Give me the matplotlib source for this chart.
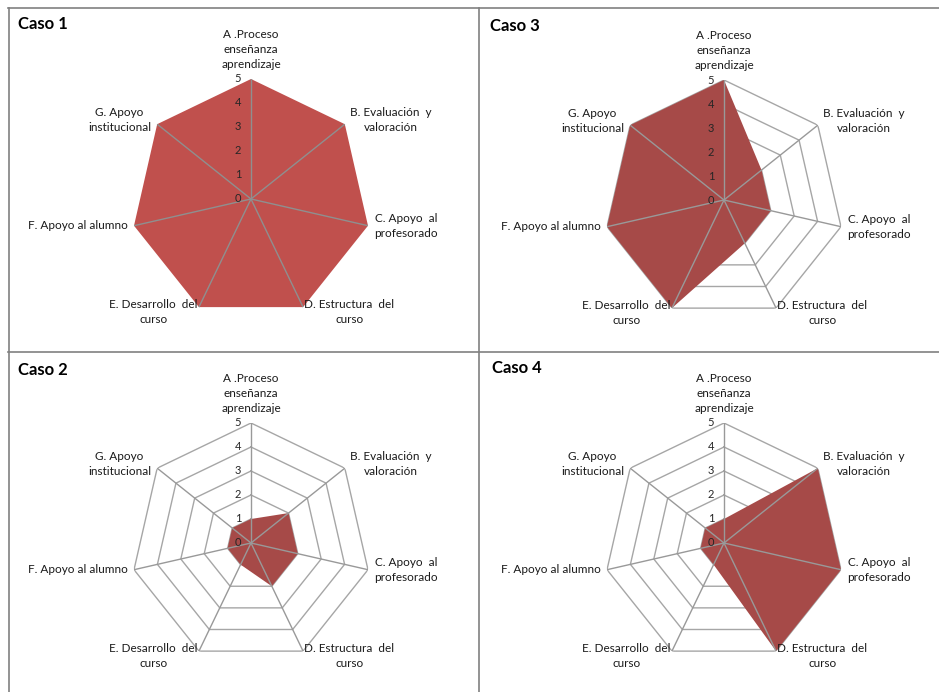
import numpy as np
import matplotlib
matplotlib.use("Agg")
import matplotlib.pyplot as plt
from matplotlib.lines import Line2D

plt.rcParams['font.family'] = ['Lato', 'DejaVu Sans']

categories = ["A .Proceso\nenseñanza\naprendizaje", "B. Evaluación  y\nvaloración",
              "C. Apoyo  al\nprofesorado", "D. Estructura  del\ncurso",
              "E. Desarrollo  del\ncurso", "F. Apoyo al alumno", "G. Apoyo\ninstitucional"]
ticks = [0, 1, 2, 3, 4, 5]
caso1 = [5, 5, 5, 5, 5, 5, 5]
caso2 = [1, 2, 2, 2, 1, 1, 1]
caso3 = [5, 2, 2, 2, 5, 5, 5]
caso4 = [1, 5, 5, 5, 1, 1, 1]
titles = ["Caso 1", "Caso 3", "Caso 2", "Caso 4"]
series = [caso1, caso3, caso2, caso4]
fills = ["#C0504D", "#A64A48", "#A64A48", "#A64A48"]
show_rings = [False, True, True, True]

W, H = 939, 692
fig = plt.figure(figsize=(W / 100, H / 100), dpi=100)

centers = [(251, 199), (724, 200), (251, 543), (724, 543)]
title_pos = [(18, 24), (490, 26), (18, 370), (492, 368)]
R = 120

lab_style = [
    dict(off=(0, 9), ha="center", va="bottom"),
    dict(off=(5, 4), ha="left", va="center"),
    dict(off=(6, 0), ha="left", va="center"),
    dict(off=(1, -5), ha="left", va="center"),
    dict(off=(-1, -5), ha="right", va="center"),
    dict(off=(-6, 0), ha="right", va="center"),
    dict(off=(-6, 4), ha="right", va="center"),
]

n = len(categories)
theta = np.linspace(0, 2 * np.pi, n, endpoint=False)
theta_c = np.concatenate([theta, theta[:1]])

for i in range(4):
    cx, cy = centers[i]
    left = (cx - R) / W
    bottom = (H - cy - R) / H
    ax = fig.add_axes([left, bottom, 2 * R / W, 2 * R / H], projection="polar")
    ax.set_theta_offset(np.pi / 2)
    ax.set_theta_direction(-1)
    ax.set_ylim(0, 5)
    ax.set_xticks([])
    ax.set_yticks([])
    ax.grid(False)
    ax.spines["polar"].set_visible(False)
    ax.patch.set_alpha(0)

    vals = series[i]
    v = np.concatenate([vals, vals[:1]])
    if show_rings[i]:
        for k in ticks[1:]:
            ax.plot(theta_c, [k] * (n + 1), color="#A6A6A6", lw=1.0, zorder=1)
    ax.fill(theta_c, v, color=fills[i], zorder=2, lw=0)
    for t in theta:
        ax.plot([t, t], [0, 5], color="#8F8F8F" if not show_rings[i] else "#999999",
                lw=1.0, zorder=3)
    for k in ticks:
        ax.annotate(str(k), xy=(0, k), xytext=(-13, 0), textcoords="offset pixels",
                    ha="center", va="center", fontsize=8, color="#262626", zorder=4)
    for j, lab in enumerate(categories):
        st = lab_style[j]
        ax.annotate(lab, xy=(theta[j], 5), xytext=st["off"], textcoords="offset pixels",
                    ha=st["ha"], va=st["va"], multialignment="center",
                    fontsize=8.5, color="#1a1a1a", linespacing=1.45,
                    annotation_clip=False)
    tx, ty = title_pos[i]
    fig.text(tx / W, 1 - ty / H, titles[i], fontsize=12, fontweight="bold",
             ha="left", va="center", color="black")

lc = "#808080"
def hline(y, x0, x1):
    fig.add_artist(Line2D([x0 / W, x1 / W], [1 - y / H, 1 - y / H], color=lc, lw=1.2))
def vline(x, y0, y1):
    fig.add_artist(Line2D([x / W, x / W], [1 - y0 / H, 1 - y1 / H], color=lc, lw=1.2))

hline(8, 8, 939)
hline(352, 8, 939)
vline(8.5, 8, 692)
vline(479, 8, 692)

fig.savefig("out.png", dpi=100)
